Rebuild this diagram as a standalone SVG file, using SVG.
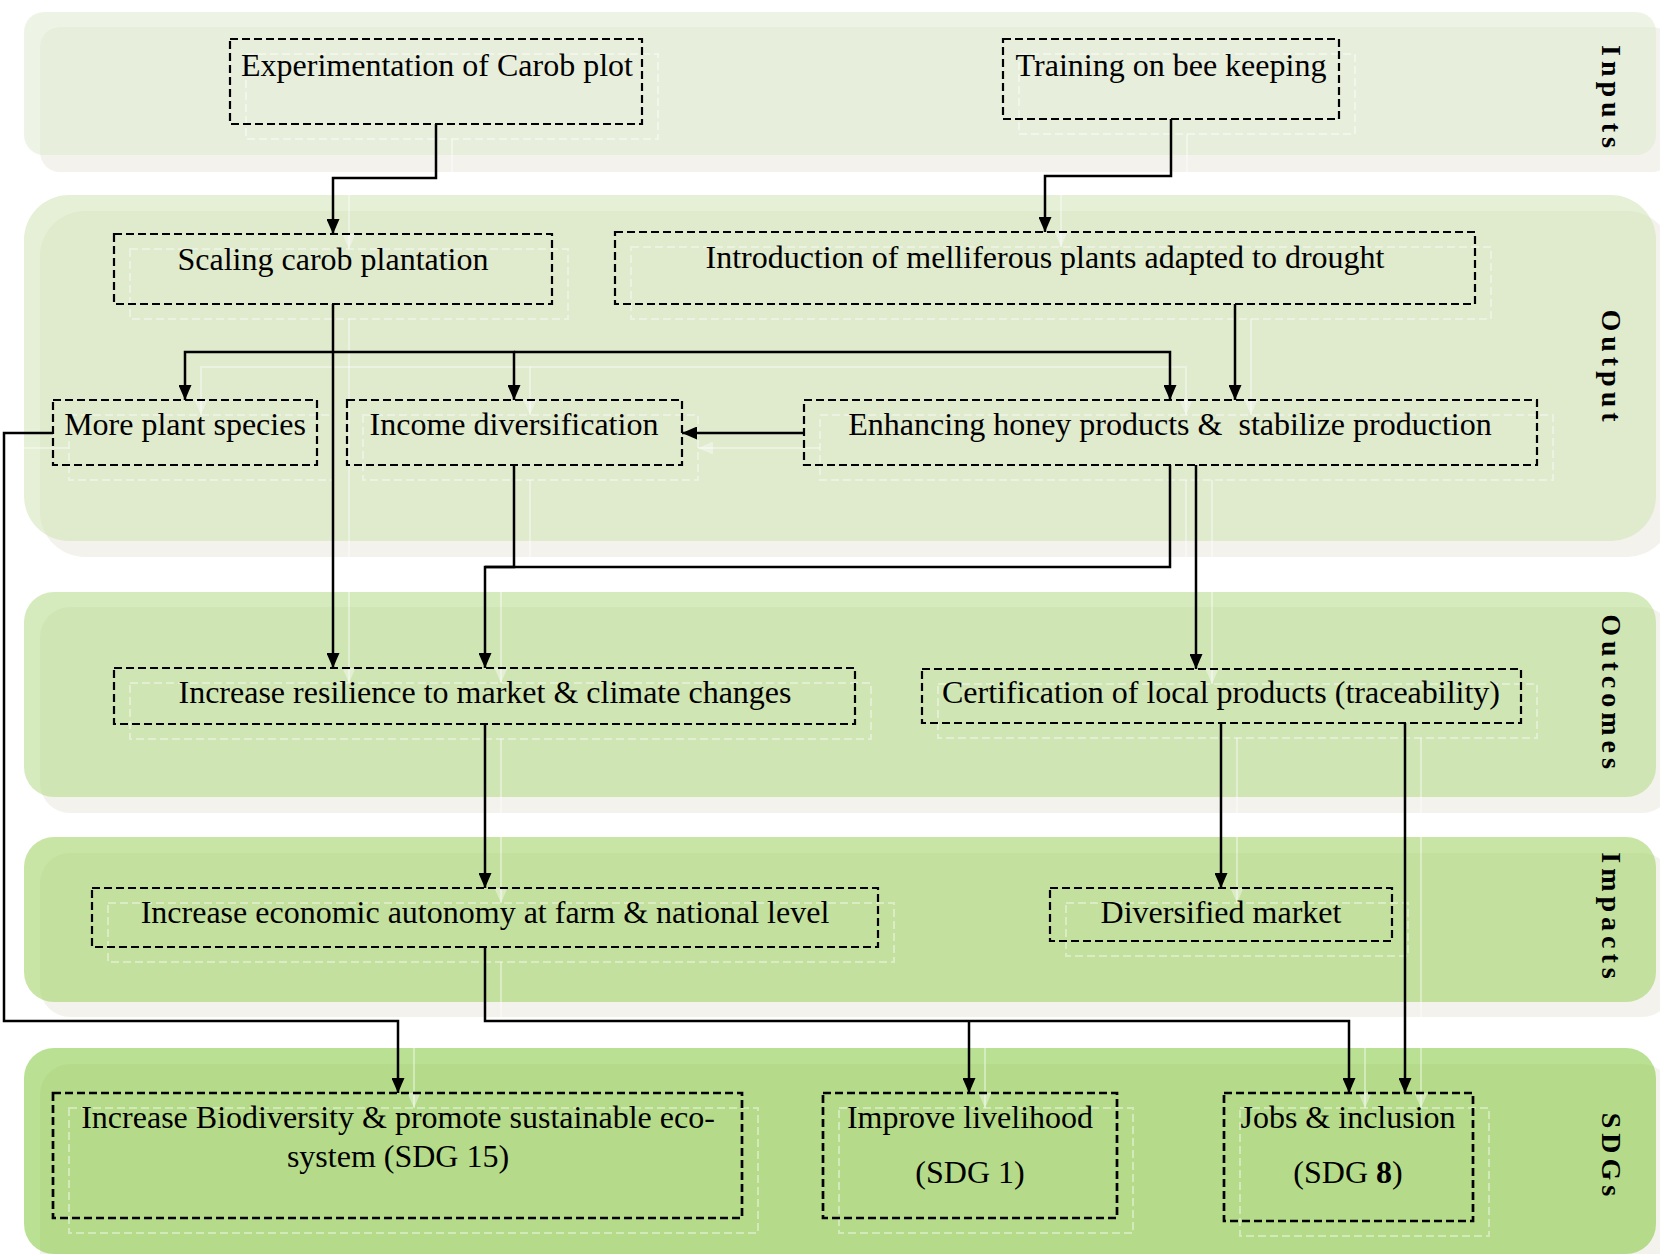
<svg xmlns="http://www.w3.org/2000/svg" width="1660" height="1254" viewBox="0 0 1660 1254">
<style>
.back{fill:#f3f2ec}
.node rect{fill:none;stroke:#000;stroke-width:2.2;stroke-dasharray:8 4}
.node.sdg rect{stroke-width:2.7}
.sh rect{fill:none;stroke:#fff;stroke-opacity:0.4;stroke-width:2;stroke-dasharray:8 4}
.node text{font-family:"Liberation Serif","Times New Roman",serif;font-size:32px;fill:#000;text-anchor:middle}
.lab{font-family:"Liberation Serif","Times New Roman",serif;font-size:28px;font-weight:bold;letter-spacing:5px;fill:#000;text-anchor:middle}
.conn path{fill:none;stroke:#000;stroke-width:2.5}
.shc path{fill:none;stroke:#fff;stroke-opacity:0.4;stroke-width:2}
</style>
<defs>
<marker id="arr" markerWidth="15" markerHeight="13" refX="15" refY="6.5" orient="auto" markerUnits="userSpaceOnUse"><path d="M0,0 L15,6.5 L0,13 z" fill="#000"/></marker>
<marker id="arrw" markerWidth="15" markerHeight="13" refX="15" refY="6.5" orient="auto" markerUnits="userSpaceOnUse"><path d="M0,0 L15,6.5 L0,13 z" fill="#fff" fill-opacity="0.4"/></marker>
</defs>
<rect width="1660" height="1254" fill="#fff"/>
<!-- bands -->
<g id="bands">
<rect class="back" x="40" y="27" width="1632" height="145" rx="20"/>
<rect x="24" y="12" width="1632" height="143" rx="20" fill="#ddeacc" fill-opacity="0.5"/>
<rect class="back" x="40" y="211" width="1632" height="346" rx="45"/>
<rect x="24" y="195" width="1632" height="346" rx="45" fill="#cfe4b4" fill-opacity="0.55"/>
<rect class="back" x="40" y="607" width="1632" height="206" rx="30"/>
<rect x="24" y="592" width="1632" height="205" rx="30" fill="#b3da86" fill-opacity="0.55"/>
<rect class="back" x="40" y="853" width="1632" height="164" rx="30"/>
<rect x="24" y="837" width="1632" height="165" rx="30" fill="#a3d46a" fill-opacity="0.6"/>
<rect class="back" x="40" y="1064" width="1632" height="220" rx="30"/>
<rect x="24" y="1048" width="1632" height="206" rx="30" fill="#82c83a" fill-opacity="0.55"/>
<text class="lab" transform="translate(1602,99) rotate(90)">Inputs</text>
<text class="lab" transform="translate(1602,368) rotate(90)">Output</text>
<text class="lab" transform="translate(1602,694) rotate(90)">Outcomes</text>
<text class="lab" transform="translate(1602,918) rotate(90)">Impacts</text>
<text class="lab" transform="translate(1602,1157) rotate(90)">SDGs</text>
</g>
<!-- shadows -->
<g class="sh" transform="translate(16,15)">
<rect x="230" y="39" width="412" height="85"/>
<rect x="1003" y="39" width="336" height="80"/>
<rect x="114" y="234" width="438" height="70"/>
<rect x="615" y="232" width="860" height="72"/>
<rect x="53" y="400" width="264" height="65"/>
<rect x="347" y="400" width="335" height="65"/>
<rect x="804" y="400" width="733" height="65"/>
<rect x="114" y="668" width="741" height="56"/>
<rect x="922" y="669" width="599" height="54"/>
<rect x="92" y="888" width="786" height="59"/>
<rect x="1050" y="888" width="342" height="53"/>
<rect x="53" y="1093" width="689" height="125"/>
<rect x="823" y="1093" width="294" height="125"/>
<rect x="1224" y="1093" width="249" height="128"/>
</g>
<g class="shc" transform="translate(16,15)">
<path d="M436,124 V178 H333 V234" marker-end="url(#arrw)"/>
<path d="M1171,119 V176 H1045 V232" marker-end="url(#arrw)"/>
<path d="M333,304 V668" marker-end="url(#arrw)"/>
<path d="M333,352 H185 V400" marker-end="url(#arrw)"/>
<path d="M333,352 H514 V400" marker-end="url(#arrw)"/>
<path d="M514,352 H1170 V400" marker-end="url(#arrw)"/>
<path d="M1235,304 V400" marker-end="url(#arrw)"/>
<path d="M804,433 H682" marker-end="url(#arrw)"/>
<path d="M514,465 V567 H485 V668" marker-end="url(#arrw)"/>
<path d="M1170,465 V567 H485"/>
<path d="M1196,465 V669" marker-end="url(#arrw)"/>
<path d="M485,724 V888" marker-end="url(#arrw)"/>
<path d="M1221,723 V888" marker-end="url(#arrw)"/>
<path d="M1405,723 V1093" marker-end="url(#arrw)"/>
<path d="M485,947 V1021 H1349 V1093" marker-end="url(#arrw)"/>
<path d="M969,1021 V1093" marker-end="url(#arrw)"/>
<path d="M53,433 H4 V1021 H398 V1093" marker-end="url(#arrw)"/>
</g>
<!-- connectors -->
<g id="connectors" class="conn">
<path d="M436,124 V178 H333 V234" marker-end="url(#arr)"/>
<path d="M1171,119 V176 H1045 V232" marker-end="url(#arr)"/>
<path d="M333,304 V668" marker-end="url(#arr)"/>
<path d="M333,352 H185 V400" marker-end="url(#arr)"/>
<path d="M333,352 H514 V400" marker-end="url(#arr)"/>
<path d="M514,352 H1170 V400" marker-end="url(#arr)"/>
<path d="M1235,304 V400" marker-end="url(#arr)"/>
<path d="M804,433 H682" marker-end="url(#arr)"/>
<path d="M514,465 V567 H485 V668" marker-end="url(#arr)"/>
<path d="M1170,465 V567 H485"/>
<path d="M1196,465 V669" marker-end="url(#arr)"/>
<path d="M485,724 V888" marker-end="url(#arr)"/>
<path d="M1221,723 V888" marker-end="url(#arr)"/>
<path d="M1405,723 V1093" marker-end="url(#arr)"/>
<path d="M485,947 V1021 H1349 V1093" marker-end="url(#arr)"/>
<path d="M969,1021 V1093" marker-end="url(#arr)"/>
<path d="M53,433 H4 V1021 H398 V1093" marker-end="url(#arr)"/>
</g>
<!-- nodes -->
<g id="n-experimentation" class="node"><rect x="230" y="39" width="412" height="85"/><text x="437" y="76">Experimentation of Carob plot</text></g>
<g id="n-training" class="node"><rect x="1003" y="39" width="336" height="80"/><text x="1171" y="76">Training on bee keeping</text></g>
<g id="n-scaling" class="node"><rect x="114" y="234" width="438" height="70"/><text x="333" y="270">Scaling carob plantation</text></g>
<g id="n-introduction" class="node"><rect x="615" y="232" width="860" height="72"/><text x="1045" y="268">Introduction of melliferous plants adapted to drought</text></g>
<g id="n-plants" class="node"><rect x="53" y="400" width="264" height="65"/><text x="185" y="435">More plant species</text></g>
<g id="n-income" class="node"><rect x="347" y="400" width="335" height="65"/><text x="514" y="435">Income diversification</text></g>
<g id="n-honey" class="node"><rect x="804" y="400" width="733" height="65"/><text x="1170" y="435" xml:space="preserve">Enhancing honey products &amp;  stabilize production</text></g>
<g id="n-resilience" class="node"><rect x="114" y="668" width="741" height="56"/><text x="485" y="703">Increase resilience to market &amp; climate changes</text></g>
<g id="n-certification" class="node"><rect x="922" y="669" width="599" height="54"/><text x="1221" y="703">Certification of local products (traceability)</text></g>
<g id="n-autonomy" class="node"><rect x="92" y="888" width="786" height="59"/><text x="485" y="923">Increase economic autonomy at farm &amp; national level</text></g>
<g id="n-market" class="node"><rect x="1050" y="888" width="342" height="53"/><text x="1221" y="923">Diversified market</text></g>
<g id="n-sdg15" class="node sdg"><rect x="53" y="1093" width="689" height="125"/><text x="398" y="1128">Increase Biodiversity &amp; promote sustainable eco-</text><text x="398" y="1167">system (SDG 15)</text></g>
<g id="n-sdg1" class="node sdg"><rect x="823" y="1093" width="294" height="125"/><text x="970" y="1128">Improve livelihood</text><text x="970" y="1183">(SDG 1)</text></g>
<g id="n-sdg8" class="node sdg"><rect x="1224" y="1093" width="249" height="128"/><text x="1348" y="1128">Jobs &amp; inclusion</text><text x="1348" y="1183">(SDG <tspan font-weight="bold">8</tspan>)</text></g>
</svg>
